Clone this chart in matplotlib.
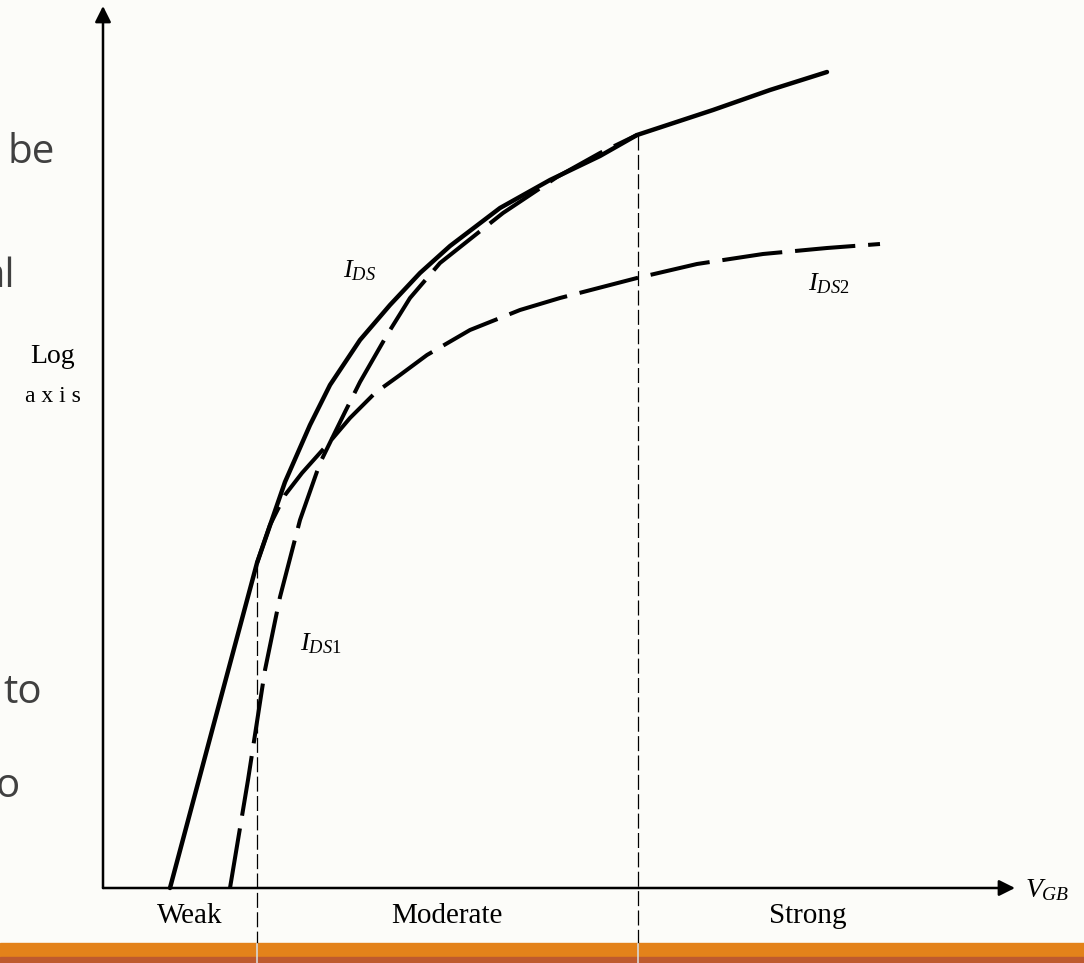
import matplotlib
matplotlib.use("Agg")
import matplotlib.pyplot as plt

# gate voltage (arbitrary units) vs log of drain current
ids_x = [0.67, 1.10, 1.54, 1.82, 2.07, 2.27, 2.57, 2.87, 3.17, 3.47, 3.97, 4.47, 4.97, 5.34, 6.10, 6.67, 7.24]
ids_y = [0.00, 1.61, 3.25, 4.06, 4.63, 5.03, 5.48, 5.83, 6.15, 6.42, 6.80, 7.08, 7.32, 7.53, 7.78, 7.98, 8.16]

ids1_x = [1.27, 1.45, 1.62, 1.77, 1.97, 2.17, 2.42, 2.57, 2.84, 3.07, 3.37, 4.00, 4.54, 4.97, 5.34]
ids1_y = [0.00, 1.08, 2.18, 2.91, 3.68, 4.25, 4.76, 5.06, 5.53, 5.90, 6.25, 6.75, 7.11, 7.35, 7.53]

ids2_x = [1.54, 1.67, 1.82, 1.99, 2.24, 2.47, 2.72, 2.97, 3.24, 3.67, 4.17, 4.57, 5.34, 5.94, 6.60, 7.24, 7.77]
ids2_y = [3.25, 3.63, 3.93, 4.15, 4.43, 4.70, 4.95, 5.13, 5.33, 5.58, 5.78, 5.90, 6.10, 6.24, 6.34, 6.40, 6.44]

# region boundaries (x) and where they meet the I_DS curve (y)
bound_x = [1.54, 5.35]
bound_top = [3.25, 7.53]
regions = ["Weak", "Moderate", "Strong"]
region_x = [0.87, 3.44, 7.05]

plt.rcParams["mathtext.fontset"] = "custom"
plt.rcParams["mathtext.it"] = "Liberation Serif:italic"
plt.rcParams["mathtext.rm"] = "Liberation Serif"

bg = "#fcfcf9"
fig = plt.figure(figsize=(10.84, 9.63), dpi=100, facecolor=bg)
ax = fig.add_axes([0, 0, 1, 1])
ax.set_facecolor(bg)
ax.set_xlim(-1.03, 9.81)
ax.set_ylim(-0.75, 8.88)
ax.axis("off")

# axes with arrow heads
arrow = dict(arrowstyle="-|>", lw=1.8, color="black", mutation_scale=24,
             shrinkA=0, shrinkB=0)
ax.annotate("", xy=(0, 8.82), xytext=(0, 0), arrowprops=arrow)
ax.annotate("", xy=(9.12, 0), xytext=(0, 0), arrowprops=arrow)

# curves
ax.plot(ids_x, ids_y, color="black", lw=3.2, solid_capstyle="round", solid_joinstyle="round")
ax.plot(ids1_x, ids1_y, color="black", lw=2.9, linestyle=(0, (15, 3.2)), dash_capstyle="butt")
ax.plot(ids2_x, ids2_y, color="black", lw=2.9, linestyle=(0, (15, 3.2)), dash_capstyle="butt")

# region boundaries
for bx, top in zip(bound_x, bound_top):
    ax.plot([bx, bx], [top, -0.55], color="black", lw=0.9, linestyle=(0, (12, 3.5)))
    ax.plot([bx, bx], [-0.56, -0.75], color="#d8d8d8", lw=1.2)

serif = "Liberation Serif"
for name, rx in zip(regions, region_x):
    ax.text(rx, -0.35, name, ha="center", va="baseline", fontsize=21, family=serif)

ax.text(-0.50, 5.25, "Log", ha="center", va="baseline", fontsize=20, family=serif)
ax.text(-0.50, 4.86, "a x i s", ha="center", va="baseline", fontsize=17, family=serif)

ax.text(2.40, 6.11, r"$I_{DS}$", ha="left", va="baseline", fontsize=19)
ax.text(7.05, 5.98, r"$I_{DS2}$", ha="left", va="baseline", fontsize=19)
ax.text(1.97, 2.38, r"$I_{DS1}$", ha="left", va="baseline", fontsize=19)
ax.text(9.22, -0.09, r"$V_{GB}$", ha="left", va="baseline", fontsize=20)

# slide footer bars
ax.axhspan(-0.69, -0.55, color="#e3821a", zorder=0)
ax.axhspan(-0.75, -0.69, color="#be5a2e", zorder=0)

# fragments of slide text peeking in from the left
sans = "Open Sans"
grey = "#404040"
ax.text(-0.48, 7.25, "be", ha="right", va="baseline", fontsize=29, family=sans, color=grey)
ax.text(-0.88, 6.01, "al", ha="right", va="baseline", fontsize=29, family=sans, color=grey)
ax.text(-0.61, 1.85, "to", ha="right", va="baseline", fontsize=29, family=sans, color=grey)
ax.text(-0.83, 0.91, "o", ha="right", va="baseline", fontsize=29, family=sans, color=grey)

fig.savefig("out.png", dpi=100, facecolor=bg)
